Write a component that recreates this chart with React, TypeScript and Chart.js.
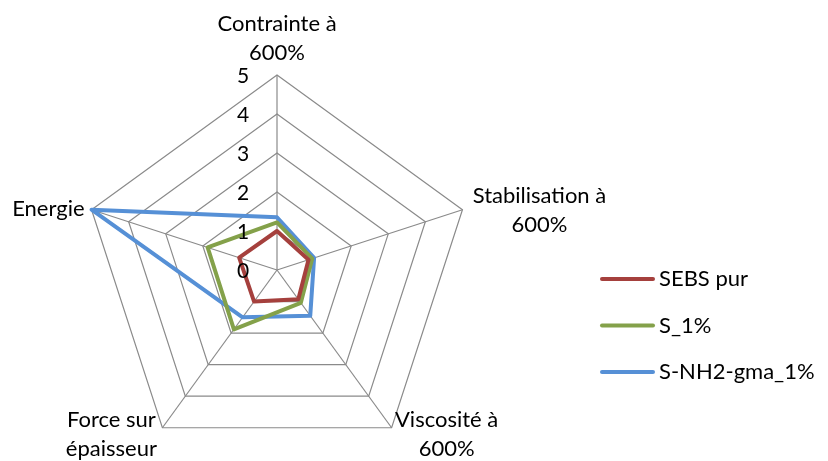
import React, { useEffect, useRef } from "react";
import { Chart, registerables } from "chart.js";

Chart.register(...registerables);

const categories: string[][] = [
  ["Contrainte à", "600%"],
  ["Stabilisation à", "600%"],
  ["Viscosité à", "600%"],
  ["Force sur", "épaisseur"],
  ["Energie"],
];
const tickValues = [0, 1, 2, 3, 4, 5];
const seriesNames = ["SEBS pur", "S_1%", "S-NH2-gma_1%"];
const sebsPur = [1.0, 0.85, 0.93, 1.0, 1.02];
const s1 = [1.22, 0.95, 1.04, 1.88, 1.87];
const sNH2gma = [1.35, 1.0, 1.45, 1.5, 5.0];
const seriesColors = ["#A5403D", "#84A14A", "#5690D6"];

const FONT = "Lato, 'Open Sans', sans-serif";

// label placement relative to each outer vertex: [anchorDx, firstBaselineDy, align]
const labelPlacement: [number, number, CanvasTextAlign][] = [
  [0, -44, "center"],
  [77, -7, "center"],
  [55, -1, "center"],
  [-51, -1, "center"],
  [-7, 6, "right"],
];

const overlayPlugin = {
  id: "overlay",
  afterDraw(chart: any) {
    const scale = chart.scales.r;
    const ctx: CanvasRenderingContext2D = chart.ctx;
    ctx.save();
    ctx.fillStyle = "#000";
    // tick labels
    ctx.font = `21px ${FONT}`;
    ctx.textAlign = "center";
    ctx.textBaseline = "middle";
    tickValues.forEach((v) => {
      const d = scale.getDistanceFromCenterForValue(v);
      ctx.fillText(String(v), scale.xCenter - 34, scale.yCenter - d + 1);
    });
    // point labels
    ctx.font = `22px ${FONT}`;
    ctx.textBaseline = "alphabetic";
    categories.forEach((lines, i) => {
      const pos = scale.getPointPosition(i, scale.drawingArea);
      const [dx, dy, align] = labelPlacement[i];
      ctx.textAlign = align;
      lines.forEach((ln, k) => {
        ctx.fillText(ln, pos.x + dx, pos.y + dy + k * 29);
      });
    });
    // legend
    ctx.font = `22px ${FONT}`;
    ctx.textAlign = "left";
    ctx.textBaseline = "middle";
    chart.data.datasets.forEach((ds: any, i: number) => {
      const y = 279 + i * 46.5;
      ctx.strokeStyle = ds.borderColor;
      ctx.lineWidth = 4;
      ctx.lineCap = "round";
      ctx.beginPath();
      ctx.moveTo(602, y);
      ctx.lineTo(653, y);
      ctx.stroke();
      ctx.fillStyle = "#000";
      ctx.fillText(ds.label, 659, y);
    });
    ctx.restore();
  },
};

export default function App() {
  const ref = useRef<HTMLCanvasElement | null>(null);
  useEffect(() => {
    if (!ref.current) return;
    const seriesValues = [sebsPur, s1, sNH2gma];
    const chart = new Chart(ref.current, {
      type: "radar",
      data: {
        labels: categories,
        datasets: seriesNames.map((name, i) => ({
          label: name,
          data: seriesValues[i],
          borderColor: seriesColors[i],
          backgroundColor: seriesColors[i],
          borderWidth: 4,
          borderJoinStyle: "round" as const,
          fill: false,
          pointRadius: 0,
        })),
      },
      options: {
        responsive: false,
        animation: false,
        layout: { padding: { left: 82, right: 356, top: 75, bottom: 15 } },
        plugins: { legend: { display: false }, tooltip: { enabled: false } },
        scales: {
          r: {
            min: 0,
            max: 5,
            ticks: { stepSize: 1, display: false },
            pointLabels: { display: false },
            grid: { color: "#8a8a8a", lineWidth: 1.2, circular: false },
            angleLines: { color: "#8a8a8a", lineWidth: 1.2 },
          },
        },
      },
      plugins: [overlayPlugin],
    });
    return () => chart.destroy();
  }, []);
  return (
    <div style={{ position: "absolute", left: 0, top: 0, width: 828, height: 461, overflow: "hidden", background: "#fff" }}>
      <canvas ref={ref} width={828} height={480} style={{ width: 828, height: 480, display: "block" }} />
    </div>
  );
}
